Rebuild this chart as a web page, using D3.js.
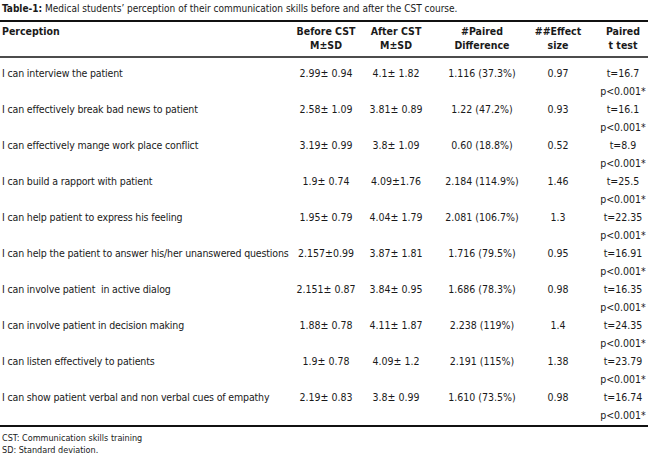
<!DOCTYPE html>
<html>
<head>
<meta charset="utf-8">
<script src="https://cdn.jsdelivr.net/npm/d3@7"></script>
<style>
  body { margin: 0; background: #fff; }
  svg text { font-family: "DejaVu Sans Condensed", "DejaVu Sans", sans-serif; font-stretch: condensed; fill: #1a1a1a; white-space: pre; }
</style>
</head>
<body>
<div id="table"></div>
<script>
// table content
const perceptions = [
    'I can interview the patient',
    'I can effectively break bad news to patient',
    'I can effectively mange work place conflict',
    'I can build a rapport with patient',
    'I can help patient to express his feeling',
    'I can help the patient to answer his/her unanswered questions',
    'I can involve patient  in active dialog',
    'I can involve patient in decision making',
    'I can listen effectively to patients',
    'I can show patient verbal and non verbal cues of empathy'
];
const beforeCST = ['2.99\u00b1 0.94', '2.58\u00b1 1.09', '3.19\u00b1 0.99', '1.9\u00b1 0.74', '1.95\u00b1 0.79', '2.157\u00b10.99', '2.151\u00b1 0.87', '1.88\u00b1 0.78', '1.9\u00b1 0.78', '2.19\u00b1 0.83'];
const afterCST = ['4.1\u00b1 1.82', '3.81\u00b1 0.89', '3.8\u00b1 1.09', '4.09\u00b11.76', '4.04\u00b1 1.79', '3.87\u00b1 1.81', '3.84\u00b1 0.95', '4.11\u00b1 1.87', '4.09\u00b1 1.2', '3.8\u00b1 0.99'];
const pairedDiff = ['1.116 (37.3%)', '1.22 (47.2%)', '0.60 (18.8%)', '2.184 (114.9%)', '2.081 (106.7%)', '1.716 (79.5%)', '1.686 (78.3%)', '2.238 (119%)', '2.191 (115%)', '1.610 (73.5%)'];
const effectSize = ['0.97', '0.93', '0.52', '1.46', '1.3', '0.95', '0.98', '1.4', '1.38', '0.98'];
const tValues = ['16.7', '16.1', '8.9', '25.5', '22.35', '16.91', '16.35', '24.35', '23.79', '16.74'];
const pLabel = 'p<0.001*';

const columns = ['perception', 'before', 'after', 'diff', 'effect', 'ttest'];
const headers = [['Perception'], ['Before CST', 'M\u00b1SD'], ['After CST', 'M\u00b1SD'], ['#Paired', 'Difference'], ['##Effect', 'size'], ['Paired', 't test']];
const footnotes = ['CST: Communication skills training', 'SD: Standard deviation.'];

const width = 650;
const height = 464;

const svg = d3.select('#table')
    .append('svg')
    .attr('width', width)
    .attr('height', height);

// column centres (first column is left aligned)
const colX = d3.scaleOrdinal().domain(columns).range([2, 326, 396, 482, 558, 623]);
const rowY = d3.scaleLinear().domain([0, perceptions.length - 1]).range([77, 401]);
const fontSize = 10.5;

// title
const title = svg.append('text').attr('x', 2).attr('y', 12).style('font-size', '10px');
title.append('tspan').style('font-weight', 'bold').text('Table-1:');
title.append('tspan').text(' Medical students\u2019 perception of their communication skills before and after the CST course.');

// rules
const rules = [{ y: 21, w: 2 }, { y: 57, w: 1.3 }, { y: 426, w: 2 }];
svg.selectAll('.rule')
    .data(rules)
    .join('line')
    .attr('class', 'rule')
    .attr('x1', 0)
    .attr('x2', 648)
    .attr('y1', d => d.y)
    .attr('y2', d => d.y)
    .attr('stroke', '#111')
    .attr('stroke-width', d => d.w);

// header
svg.selectAll('.head')
    .data(headers)
    .join('text')
    .attr('class', 'head')
    .attr('x', (d, i) => colX(columns[i]))
    .attr('text-anchor', (d, i) => i === 0 ? 'start' : 'middle')
    .style('font-weight', 'bold')
    .style('font-size', fontSize + 'px')
    .selectAll('tspan')
    .data(d => d)
    .join('tspan')
    .attr('x', function () { return d3.select(this.parentNode).attr('x'); })
    .attr('y', (d, i) => 35 + i * 14)
    .text(d => d);

// body rows
const rows = perceptions.map((p, i) => ({
    perception: p,
    before: beforeCST[i],
    after: afterCST[i],
    diff: pairedDiff[i],
    effect: effectSize[i],
    ttest: 't=' + tValues[i]
}));

const row = svg.selectAll('.row')
    .data(rows)
    .join('g')
    .attr('class', 'row')
    .attr('transform', (d, i) => `translate(0, ${rowY(i)})`);

columns.forEach((c, ci) => {
    row.append('text')
        .attr('x', colX(c))
        .attr('text-anchor', ci === 0 ? 'start' : 'middle')
        .style('font-size', fontSize + 'px')
        .style('letter-spacing', ci === 0 ? '-0.15px' : null)
        .text(d => d[c]);
});

row.append('text')
    .attr('x', colX('ttest'))
    .attr('y', 18)
    .attr('text-anchor', 'middle')
    .style('font-size', fontSize + 'px')
    .text(pLabel);

// footnotes
svg.selectAll('.foot')
    .data(footnotes)
    .join('text')
    .attr('class', 'foot')
    .attr('x', 2)
    .attr('y', (d, i) => 441 + i * 11.5)
    .style('font-size', '9px')
    .text(d => d);
</script>
</body>
</html>
